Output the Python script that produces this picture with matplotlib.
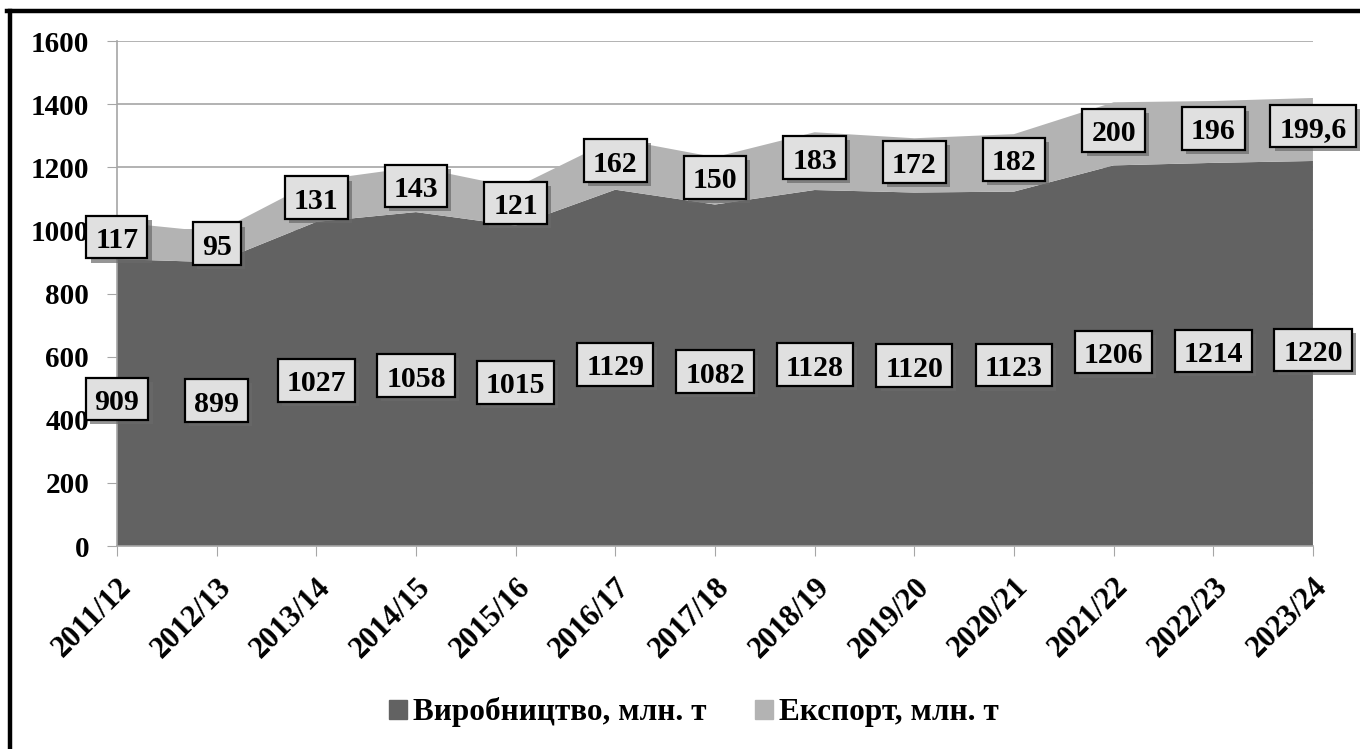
import matplotlib.pyplot as plt
import matplotlib.patches as mpatches
import matplotlib.patheffects as pe
from matplotlib.lines import Line2D
from matplotlib.path import Path

plt.rcParams['font.family'] = ['Liberation Serif', 'DejaVu Serif']
plt.rcParams['font.weight'] = 'bold'

seasons = ['2011/12', '2012/13', '2013/14', '2014/15', '2015/16', '2016/17', '2017/18',
           '2018/19', '2019/20', '2020/21', '2021/22', '2022/23', '2023/24']
production = [909, 899, 1027, 1058, 1015, 1129, 1082, 1128, 1120, 1123, 1206, 1214, 1220]
export = [117, 95, 131, 143, 121, 162, 150, 183, 172, 182, 200, 196, 199.6]
series_names = ['Виробництво, млн. т', 'Експорт, млн. т']
y_ticks = [0, 200, 400, 600, 800, 1000, 1200, 1400, 1600]

dark = '#626262'
light = '#b3b3b3'
grid_col = '#a6a6a6'


def fmt(v):
    # decimal comma, like the original
    if v == int(v):
        return str(int(v))
    return ('%.1f' % v).replace('.', ',')


def tall_box(x0, y0, width, height, mutation_size):
    # square box; text bbox already has descent room at the bottom
    px = 0.30 * mutation_size
    top = 0.38 * mutation_size
    bot = 0.14 * mutation_size
    x0, x1 = x0 - px, x0 + width + px
    y0, y1 = y0 - bot, y0 + height + top
    return Path([(x0, y0), (x1, y0), (x1, y1), (x0, y1), (x0, y0)],
                [Path.MOVETO, Path.LINETO, Path.LINETO, Path.LINETO, Path.CLOSEPOLY])


def label(ax, x, y, txt):
    t = ax.text(x, y, txt, ha='center', va='center', fontsize=21.5, fontweight='bold',
                bbox=dict(boxstyle=tall_box, facecolor='#e0e0e0', edgecolor='black', linewidth=1.6),
                zorder=5, clip_on=False)
    t.get_bbox_patch().set_path_effects(
        [pe.SimplePatchShadow(offset=(3, -3), shadow_rgbFace='#6a6a6a', alpha=0.7), pe.Normal()])


fig = plt.figure(figsize=(13.6, 7.49), dpi=100)
ax = fig.add_axes([0.086, 0.271, 0.8794, 0.6742])

x = list(range(len(seasons)))
ax.stackplot(x, production, export, colors=[dark, light], labels=series_names, zorder=2)

for i in x:
    label(ax, i, production[i] / 2, fmt(production[i]))
    label(ax, i, production[i] + export[i] / 2, fmt(export[i]))

ax.set_xlim(0, len(seasons) - 1)
ax.set_ylim(0, 1600)
ax.set_yticks(y_ticks)
ax.set_yticklabels([str(t) for t in y_ticks], fontsize=21, fontweight='bold')
ax.set_xticks(x)
ax.set_xticklabels(seasons, fontsize=22, fontweight='bold', rotation=45,
                   ha='right', va='top', rotation_mode='anchor')

ax.grid(axis='y', color=grid_col, linewidth=1.2, zorder=0)
ax.set_axisbelow(True)
for s in ['top', 'right']:
    ax.spines[s].set_visible(False)
ax.spines['left'].set_color(grid_col)
ax.spines['bottom'].set_color(grid_col)
ax.spines['left'].set_linewidth(1.2)
ax.spines['bottom'].set_linewidth(1.2)
ax.tick_params(axis='y', length=7, color=grid_col, pad=13)
ax.tick_params(axis='x', length=7, color=grid_col, pad=12)

handles = [mpatches.Patch(color=dark), mpatches.Patch(color=light)]
fig.legend(handles, series_names, loc='center', bbox_to_anchor=(0.51, 0.049), ncol=2,
           frameon=False, prop={'size': 22.5, 'weight': 'bold'}, handlelength=0.57,
           handleheight=0.57, handletextpad=0.2, columnspacing=1.55, borderpad=0)

# frame lines on the left and top edges (right/bottom are cut off in the original)
fig.add_artist(Line2D([0.0070, 0.0070], [0.0, 0.9847], transform=fig.transFigure,
                      color='black', linewidth=3.2))
fig.add_artist(Line2D([0.0052, 1.0], [0.9847, 0.9847], transform=fig.transFigure,
                      color='black', linewidth=3.2))

fig.savefig('out.png', dpi=100)
